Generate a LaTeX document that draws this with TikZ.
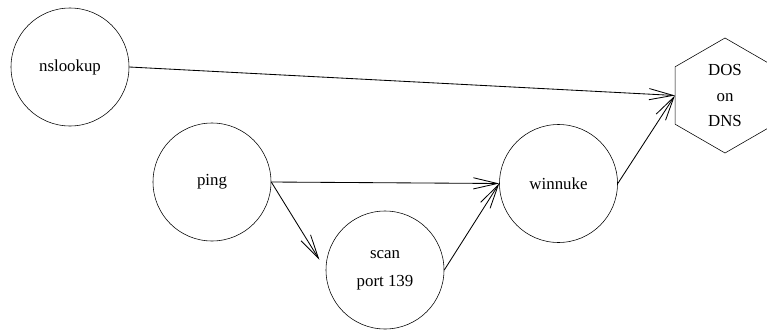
\documentclass[tikz,border=0pt]{standalone}
\usepackage{fontspec}
\setmainfont{Liberation Serif}
\usetikzlibrary{arrows.meta,shapes.geometric}
\begin{document}
\begin{tikzpicture}[>={Straight Barb[length=0.6cm,width=0.28cm]},semithick,
    attack/.style={circle,draw,thin,minimum size=2.95cm,inner sep=0pt,align=center,
        font=\fontsize{12}{20}\selectfont},
    target/.style={regular polygon,regular polygon sides=6,regular polygon rotate=30,
        draw,thin,minimum size=2.875cm,inner sep=0pt,align=center,
        font=\fontsize{12}{17.8}\selectfont}]
    \useasboundingbox (0,0) rectangle (19.175,8.275);
    \node[attack] (nslookup) at (1.75,6.6) {nslookup};
    \node[attack] (ping) at (5.3,3.725) {ping};
    \node[attack] (scan) at (9.625,1.525) {scan\\port 139};
    \node[attack] (winnuke) at (13.9625,3.6875) {winnuke};
    \node[target] (dos) at (18.125,5.8875) {DOS\\on\\DNS};
    \draw[->] (nslookup.east)--(dos.west);
    \draw[->] (ping.east)--(winnuke.west);
    \draw[->,shorten >=0.3cm] (ping.east)--(scan.west);
    \draw[->] (scan.east)--(winnuke.west);
    \draw[->] (winnuke.east)--(dos.west);
\end{tikzpicture}
\end{document}
